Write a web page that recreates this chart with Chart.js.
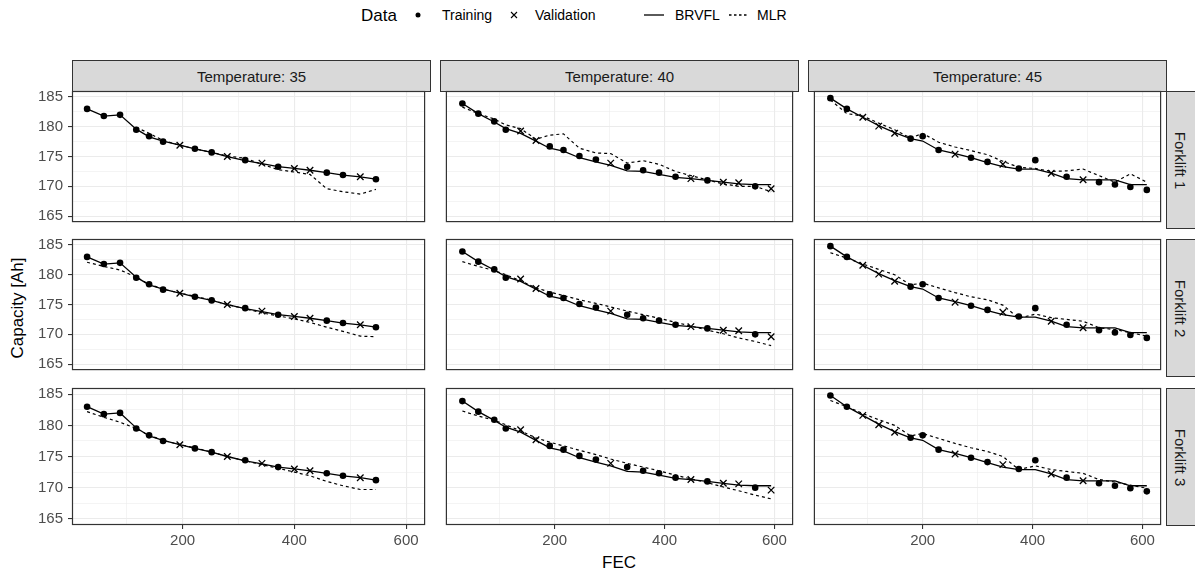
<!DOCTYPE html>
<html><head><meta charset="utf-8">
<script src="https://cdn.jsdelivr.net/npm/chart.js@4.4.1/dist/chart.umd.min.js"></script>
<style>
body{margin:0;background:#fff;font-family:"Liberation Sans",Arial,sans-serif;}
#wrap{position:relative;width:1195px;height:576px;overflow:hidden;background:#fff;}
.strip{position:absolute;background:#D9D9D9;border:1.2px solid #333;box-sizing:border-box;color:#1A1A1A;font-size:15px;display:flex;align-items:center;justify-content:center;white-space:nowrap;}
.vstrip span{display:inline-block;transform:rotate(90deg);}
canvas{position:absolute;}
.lg{position:absolute;top:15px;transform:translateY(-50%);white-space:nowrap;color:#000;line-height:1;}
.lg.t{font-size:17px;}
.lg.l{font-size:14px;}
.lgk{position:absolute;top:6px;}
.ytitle{position:absolute;left:18px;top:308px;transform:translate(-50%,-50%) rotate(-90deg);font-size:17px;white-space:nowrap;}
.xtitle{position:absolute;left:619px;top:563px;transform:translate(-50%,-50%);font-size:17px;}
</style></head>
<body><div id="wrap">
<span class="lg t" style="left:361px">Data</span>
<svg class="lgk" style="left:409px" width="18" height="18"><circle cx="9" cy="9" r="2.5" fill="#000"/></svg>
<span class="lg l" style="left:442px">Training</span>
<svg class="lgk" style="left:505px" width="18" height="18"><path d="M6 6 L12 12 M12 6 L6 12" stroke="#000" stroke-width="1.1"/></svg>
<span class="lg l" style="left:535px">Validation</span>
<svg class="lgk" style="left:643px" width="22" height="18"><line x1="1" y1="9" x2="21" y2="9" stroke="#000" stroke-width="1.3"/></svg>
<span class="lg l" style="left:675px">BRVFL</span>
<svg class="lgk" style="left:728px" width="22" height="18"><line x1="1" y1="9" x2="21" y2="9" stroke="#000" stroke-width="1.3" stroke-dasharray="2.5,2.5"/></svg>
<span class="lg l" style="left:757px">MLR</span>
<div class="ytitle">Capacity [Ah]</div>
<div class="xtitle">FEC</div>
</div>
<script>
// ---- data ----
const temperatures = [35, 40, 45];
const forklifts = ['Forklift 1', 'Forklift 2', 'Forklift 3'];

const fecT35   = [29, 59, 88, 117, 140, 165, 195, 222, 252, 280, 312, 342, 371, 400, 428, 458, 487, 518, 546];
const capT35   = [183.0, 181.8, 182.0, 179.5, 178.4, 177.5, 176.9, 176.3, 175.7, 175.0, 174.4, 173.9, 173.3, 173.0, 172.7, 172.3, 171.9, 171.6, 171.2];
const setT35   = ['T','T','T','T','T','T','V','T','T','V','T','V','T','V','V','T','T','V','T'];
const brvflT35 = [183.0, 181.8, 182.0, 179.6, 178.3, 177.6, 176.9, 176.3, 175.7, 175.0, 174.3, 173.8, 173.3, 173.0, 172.7, 172.3, 171.9, 171.6, 171.2];
const mlrT35F1 = [null, null, null, 179.9, 178.9, 177.7, 176.9, 176.3, 175.7, 175.1, 174.7, 173.7, 172.8, 172.4, 172.0, 169.6, 169.1, 168.7, 169.5];
const mlrT35F2 = [182.1, 181.4, 180.8, 179.6, 178.4, 177.6, 176.9, 176.4, 175.7, 175.0, 174.3, 173.6, 173.1, 172.6, 172.0, 171.2, 170.5, 169.7, 169.6];
const mlrT35F3 = [182.2, 181.3, 180.5, 179.5, 178.4, 177.6, 176.9, 176.4, 175.7, 175.0, 174.3, 173.7, 173.1, 172.5, 171.9, 171.0, 170.3, 169.7, 169.7];

const fecT40   = [32, 61, 90, 111, 138, 166, 191, 216, 245, 275, 302, 332, 361, 390, 420, 448, 478, 507, 535, 565, 594];
const capT40   = [183.9, 182.2, 180.9, 179.5, 179.3, 177.7, 176.7, 176.1, 175.1, 174.5, 173.9, 173.3, 172.7, 172.3, 171.6, 171.3, 171.0, 170.7, 170.6, 170.0, 169.6];
const setT40   = ['T','T','T','T','V','V','T','T','T','T','V','T','T','T','T','V','T','V','V','T','V'];
const brvflT40 = [183.9, 182.2, 180.8, 179.7, 178.9, 177.6, 176.4, 175.9, 174.8, 174.1, 173.5, 172.6, 172.5, 172.0, 171.5, 171.3, 171.0, 170.7, 170.4, 170.3, 170.3];
const mlrT40F1 = [183.3, 182.2, 181.3, 180.3, 179.7, 177.9, 178.6, 178.8, 176.4, 175.6, 175.5, 173.9, 174.3, 173.7, 172.5, 171.8, 171.1, 170.4, 170.0, 170.0, 169.1];
const mlrT40F2 = [182.2, 181.4, 180.7, 180.0, 179.0, 177.8, 177.1, 176.5, 175.8, 175.2, 174.6, 173.9, 173.3, 172.7, 172.0, 171.4, 170.7, 170.1, 169.4, 168.8, 168.1];
const mlrT40F3 = [182.3, 181.5, 180.8, 180.1, 179.1, 178.0, 177.3, 176.7, 176.0, 175.3, 174.6, 173.9, 173.3, 172.7, 172.0, 171.4, 170.8, 170.1, 169.5, 168.8, 168.2];

const fecT45   = [32, 62, 91, 120, 149, 178, 200, 229, 259, 288, 318, 346, 375, 405, 434, 462, 492, 521, 550, 578, 608];
const capT45   = [184.8, 183.0, 181.6, 180.1, 178.9, 178.0, 178.4, 176.1, 175.4, 174.8, 174.1, 173.7, 173.0, 174.4, 172.2, 171.6, 171.1, 170.7, 170.3, 169.9, 169.4];
const setT45   = ['T','T','V','V','V','T','T','T','V','T','T','V','T','T','V','T','V','T','T','T','T'];
const brvflT45 = [184.8, 183.0, 181.6, 180.2, 179.0, 178.0, 177.6, 176.1, 175.5, 174.8, 174.0, 173.3, 172.9, 172.9, 172.2, 171.3, 171.1, 171.1, 171.1, 170.3, 170.3];
const mlrT45F1 = [184.5, 182.2, 181.8, 180.6, 179.5, 178.1, 178.9, 177.4, 176.6, 176.0, 175.3, 174.2, 173.2, 173.0, 172.5, 172.6, 172.9, 171.8, 170.7, 172.1, 170.7];
const mlrT45F2 = [183.7, 182.8, 181.8, 180.9, 180.0, 178.3, 178.6, 177.8, 177.0, 176.3, 175.8, 174.9, 172.7, 173.4, 172.8, 172.5, 172.2, 171.1, 170.8, 170.3, 169.7];
const mlrT45F3 = [184.0, 183.0, 181.9, 180.9, 180.0, 178.3, 178.7, 177.9, 177.1, 176.4, 175.8, 175.0, 172.9, 173.5, 172.9, 172.6, 172.3, 171.3, 170.9, 170.4, 169.9];

const xTicks = [100, 200, 300, 400, 500, 600];
const xMajor = [200, 400, 600];
const yTicks = [165, 167.5, 170, 172.5, 175, 177.5, 180, 182.5, 185];
const yMajor = [165, 170, 175, 180, 185];
const xMin = 2, xMax = 634, yMin = 164, yMax = 186;

const groups = [
  {fec: fecT35, cap: capT35, set: setT35, brvfl: brvflT35, mlr: [mlrT35F1, mlrT35F2, mlrT35F3]},
  {fec: fecT40, cap: capT40, set: setT40, brvfl: brvflT40, mlr: [mlrT40F1, mlrT40F2, mlrT40F3]},
  {fec: fecT45, cap: capT45, set: setT45, brvfl: brvflT45, mlr: [mlrT45F1, mlrT45F2, mlrT45F3]}
];

// ---- layout ----
const wrap = document.getElementById('wrap');
const colLeft = [72, 440, 808], rowTop = [91, 239, 388], PW = 358, PH = 137;
const YAX = 52, XAX = 34, PADT = 10;
const FONT = '"Liberation Sans", Arial, sans-serif';

temperatures.forEach((t, c) => {
  const s = document.createElement('div');
  s.className = 'strip';
  Object.assign(s.style, {left: colLeft[c] + 'px', top: '60px', width: (PW + 1) + 'px', height: '32px'});
  s.textContent = 'Temperature: ' + t;
  wrap.appendChild(s);
});
forklifts.forEach((f, r) => {
  const s = document.createElement('div');
  s.className = 'strip vstrip';
  Object.assign(s.style, {left: '1166px', top: rowTop[r] + 'px', width: '30px', height: (PH + 1) + 'px'});
  const sp = document.createElement('span'); sp.textContent = f; s.appendChild(sp);
  wrap.appendChild(s);
});

const borderPlugin = {
  id: 'panelBorder',
  afterDraw(chart) {
    const a = chart.chartArea, ctx = chart.ctx;
    ctx.save();
    ctx.strokeStyle = '#333333';
    ctx.lineWidth = 1.2;
    ctx.strokeRect(a.left + 0.5, a.top + 0.5, a.right - a.left - 1, a.bottom - a.top - 1);
    ctx.restore();
  }
};

const pts = (xs, ys, keep) => xs.map((x, i) => (keep(i) && ys[i] !== null) ? {x: x, y: ys[i]} : null).filter(p => p);

for (let r = 0; r < 3; r++) {
  for (let c = 0; c < 3; c++) {
    const g = groups[c];
    const leftExtra = c === 0 ? YAX : 0;
    const botExtra = r === 2 ? XAX : 0;
    const cv = document.createElement('canvas');
    const w = PW + leftExtra + 1, h = PADT + PH + botExtra;
    cv.width = w; cv.height = h;
    Object.assign(cv.style, {left: (colLeft[c] - leftExtra) + 'px', top: (rowTop[r] - PADT) + 'px', width: w + 'px', height: h + 'px'});
    wrap.appendChild(cv);

    new Chart(cv, {
      type: 'line',
      data: {
        datasets: [
          {label: 'Training', data: pts(g.fec, g.cap, i => g.set[i] === 'T'), showLine: false,
           pointStyle: 'circle', pointRadius: 3.3, pointBackgroundColor: '#000', pointBorderColor: '#000', pointBorderWidth: 0},
          {label: 'Validation', data: pts(g.fec, g.cap, i => g.set[i] === 'V'), showLine: false,
           pointStyle: 'crossRot', pointRadius: 4.6, pointBorderColor: '#000', pointBorderWidth: 1.3},
          {label: 'BRVFL', data: pts(g.fec, g.brvfl, () => true), borderColor: '#000', borderWidth: 1.3,
           pointRadius: 0, tension: 0, fill: false},
          {label: 'MLR', data: pts(g.fec, g.mlr[r], () => true), borderColor: '#000', borderWidth: 1.2,
           borderDash: [3, 3], pointRadius: 0, tension: 0, fill: false}
        ]
      },
      options: {
        responsive: false, animation: false, devicePixelRatio: 1,
        layout: {padding: {top: PADT, right: 1, left: 0, bottom: 0}},
        plugins: {legend: {display: false}, tooltip: {enabled: false}},
        events: [],
        scales: {
          x: {
            type: 'linear', min: xMin, max: xMax,
            afterBuildTicks: s => { s.ticks = xTicks.map(v => ({value: v})); },
            afterFit: s => { s.height = botExtra; s.paddingLeft = 0; s.paddingRight = 0; },
            border: {display: false},
            grid: {
              color: '#EBEBEB',
              lineWidth: ctx => (ctx.tick && xMajor.includes(ctx.tick.value)) ? 1.1 : 0.55,
              drawTicks: r === 2, tickLength: 4, tickWidth: 1.1,
              tickColor: ctx => (ctx.tick && xMajor.includes(ctx.tick.value)) ? '#333333' : 'rgba(0,0,0,0)'
            },
            ticks: {
              display: r === 2, autoSkip: false, maxRotation: 0, padding: 3, color: '#4D4D4D',
              font: {size: 15, family: FONT},
              callback: v => xMajor.includes(v) ? String(v) : ''
            }
          },
          y: {
            type: 'linear', min: yMin, max: yMax,
            afterBuildTicks: s => { s.ticks = yTicks.map(v => ({value: v})); },
            afterFit: s => { s.width = leftExtra; s.paddingTop = 0; s.paddingBottom = 0; },
            border: {display: false},
            grid: {
              color: '#EBEBEB',
              lineWidth: ctx => (ctx.tick && yMajor.includes(ctx.tick.value)) ? 1.1 : 0.55,
              drawTicks: c === 0, tickLength: 4, tickWidth: 1.1,
              tickColor: ctx => (ctx.tick && yMajor.includes(ctx.tick.value)) ? '#333333' : 'rgba(0,0,0,0)'
            },
            ticks: {
              display: c === 0, autoSkip: false, padding: 5, color: '#4D4D4D',
              font: {size: 15, family: FONT},
              callback: v => yMajor.includes(v) ? String(v) : ''
            }
          }
        }
      },
      plugins: [borderPlugin]
    });
  }
}
</script>
</body></html>
